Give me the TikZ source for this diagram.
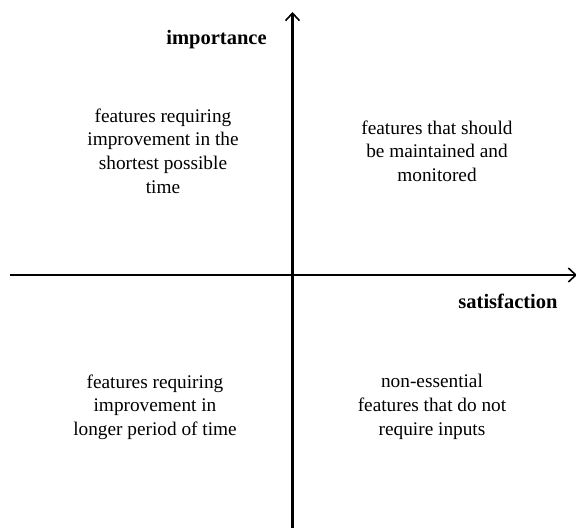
\documentclass[tikz,border=0pt]{standalone}
\usepackage{fontspec}
\setmainfont{Liberation Serif}
\usetikzlibrary{arrows.meta}
\begin{document}
\begin{tikzpicture}[x=1pt,y=-1pt,
  axis/.style={line width=2.2pt,-{Straight Barb[length=7.5pt,width=14pt,line width=1.6pt]}},
  quad/.style={align=center,font=\fontsize{19.3}{23.7}\selectfont,inner sep=0pt},
  axlabel/.style={font=\fontsize{20.5}{23.7}\selectfont\bfseries,inner sep=0pt}]
\useasboundingbox (0,0) rectangle (576,528);
\coordinate (xl) at (10,275);
\coordinate (xr) at (577,275);
\coordinate (yb) at (292.5,528);
\coordinate (yt) at (292.5,12);
\draw[axis] (xl) -- (xr);
\draw[axis] (yb) -- (yt);
\node[axlabel] (imp) at (216.5,40) {importance};
\node[axlabel] (sat) at (508,301) {satisfaction};
\node[quad] (q1) at (163,151) {features requiring\\improvement in the\\shortest possible\\time};
\node[quad] (q2) at (437,151) {features that should\\be maintained and\\monitored};
\node[quad] (q3) at (155,407) {features requiring\\improvement in\\longer period of time};
\node[quad] (q4) at (432,407) {non-essential\\features that do not\\require inputs};
\end{tikzpicture}
\end{document}
